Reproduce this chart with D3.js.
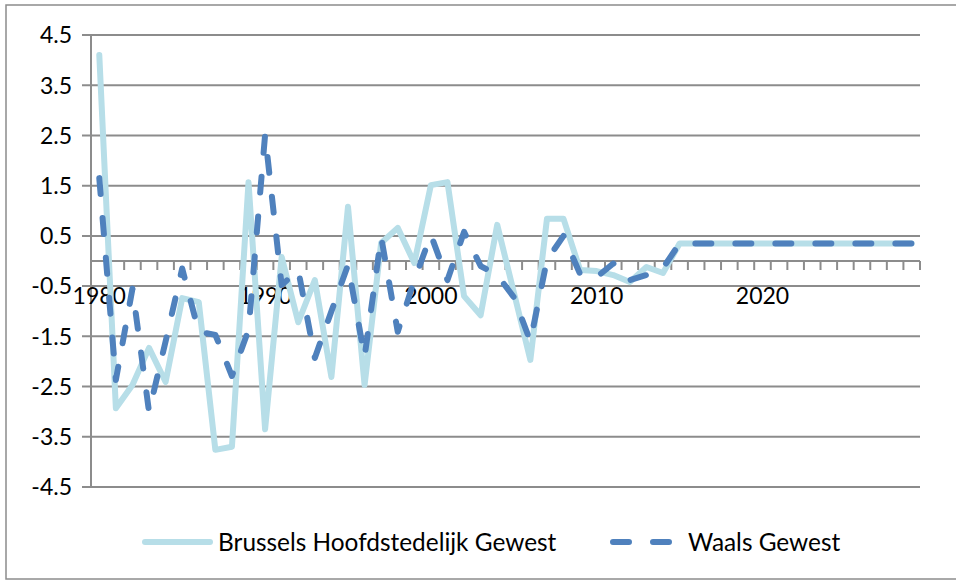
<html>
<head>
<meta charset="utf-8">
<style>
    body { margin: 0; background: #fff; }
    text { font-family: Lato, "Noto Sans", sans-serif; fill: #000; }
</style>
</head>
<body>
<svg id="chart" width="956" height="581"></svg>
<script src="https://cdn.jsdelivr.net/npm/d3@7"></script>
<script>
    // years 1980 - 2029
    let years = [1980, 1981, 1982, 1983, 1984, 1985, 1986, 1987, 1988, 1989,
                 1990, 1991, 1992, 1993, 1994, 1995, 1996, 1997, 1998, 1999,
                 2000, 2001, 2002, 2003, 2004, 2005, 2006, 2007, 2008, 2009,
                 2010, 2011, 2012, 2013, 2014, 2015, 2016, 2017, 2018, 2019,
                 2020, 2021, 2022, 2023, 2024, 2025, 2026, 2027, 2028, 2029]
    let brussels = [4.1, -2.93, -2.47, -1.73, -2.41, -0.74, -0.82, -3.76, -3.7, 1.57,
                    -3.35, 0.08, -1.22, -0.38, -2.31, 1.08, -2.47, 0.36, 0.66, -0.04,
                    1.51, 1.57, -0.7, -1.08, 0.72, -0.62, -1.97, 0.84, 0.84, -0.18,
                    -0.2, -0.28, -0.42, -0.12, -0.24, 0.35, 0.35, 0.35, 0.35, 0.35,
                    0.35, 0.35, 0.35, 0.35, 0.35, 0.35, 0.35, 0.35, 0.35, 0.35]
    let waals = [1.65, -2.37, -0.55, -3.0, -1.6, -0.15, -1.41, -1.47, -2.29, -1.37,
                 2.51, -0.48, -0.18, -1.93, -1.0, -0.08, -1.91, 0.48, -1.41, -0.38,
                 0.52, -0.38, 0.58, -0.1, -0.28, -0.72, -1.6, 0.02, 0.5, -0.26,
                 -0.32, -0.05, -0.38, -0.28, -0.14, 0.35, 0.35, 0.35, 0.35, 0.35,
                 0.35, 0.35, 0.35, 0.35, 0.35, 0.35, 0.35, 0.35, 0.35, 0.35]
    let yTicks = [4.5, 3.5, 2.5, 1.5, 0.5, -0.5, -1.5, -2.5, -3.5, -4.5]
    let xLabels = [1980, 1990, 2000, 2010, 2020]
    let seriesNames = ["Brussels Hoofdstedelijk Gewest", "Waals Gewest"]

    let svg = d3.select("#chart")
    let gray = "#8c8c8c"

    // outer frame
    svg.append("rect")
        .attr("x", 6).attr("y", 5)
        .attr("width", 980).attr("height", 574)
        .attr("fill", "none").attr("stroke", gray).attr("stroke-width", 1.5)

    let x = d3.scaleBand().domain(years).range([91, 920]).padding(0)
    let y = d3.scaleLinear().domain([-4.5, 4.5]).range([487, 35])
    let cx = d => x(d) + x.bandwidth() / 2

    // horizontal gridlines + y ticks
    svg.selectAll(".grid")
        .data(yTicks)
        .enter().append("line")
        .attr("x1", 82).attr("x2", 920)
        .attr("y1", d => y(d)).attr("y2", d => y(d))
        .attr("stroke", gray).attr("stroke-width", 2)

    svg.selectAll(".ylab")
        .data(yTicks)
        .enter().append("text")
        .attr("x", 72).attr("y", d => y(d))
        .attr("dy", "0.36em")
        .attr("text-anchor", "end")
        .attr("font-size", 23)
        .text(d => d.toFixed(1))

    // vertical axis
    svg.append("line")
        .attr("x1", 91).attr("x2", 91).attr("y1", 35).attr("y2", 487)
        .attr("stroke", gray).attr("stroke-width", 2)

    // horizontal axis at zero with a tick between every category
    svg.append("line")
        .attr("x1", 91).attr("x2", 920).attr("y1", y(0)).attr("y2", y(0))
        .attr("stroke", gray).attr("stroke-width", 2)

    let bounds = years.map(d => x(d)).concat([x(years[years.length - 1]) + x.bandwidth()])
    svg.selectAll(".xtick")
        .data(bounds)
        .enter().append("line")
        .attr("x1", d => d).attr("x2", d => d)
        .attr("y1", y(0)).attr("y2", y(0) + 9)
        .attr("stroke", gray).attr("stroke-width", 2)

    svg.selectAll(".xlab")
        .data(xLabels)
        .enter().append("text")
        .attr("x", d => cx(d)).attr("y", 304)
        .attr("text-anchor", "middle")
        .attr("font-size", 23)
        .text(d => d)

    // lines
    let line = d3.line()
        .x((d, i) => cx(years[i]))
        .y(d => y(d))

    svg.append("path")
        .attr("d", line(brussels))
        .attr("fill", "none")
        .attr("stroke", "#b7dee8")
        .attr("stroke-width", 6)
        .attr("stroke-linejoin", "round")
        .attr("stroke-linecap", "round")

    svg.append("path")
        .attr("d", line(waals))
        .attr("fill", "none")
        .attr("stroke", "#4f81bd")
        .attr("stroke-width", 6)
        .attr("stroke-dasharray", "16,24")
        .attr("stroke-linejoin", "round")
        .attr("stroke-linecap", "round")

    // legend
    let legend = svg.append("g")
    legend.append("line")
        .attr("x1", 145).attr("x2", 210).attr("y1", 542).attr("y2", 542)
        .attr("stroke", "#b7dee8").attr("stroke-width", 6).attr("stroke-linecap", "round")
    legend.append("text")
        .attr("x", 218).attr("y", 542).attr("dy", "0.36em")
        .attr("font-size", 24.4)
        .text(seriesNames[0])
    legend.append("line")
        .attr("x1", 613).attr("x2", 677).attr("y1", 542).attr("y2", 542)
        .attr("stroke", "#4f81bd").attr("stroke-width", 6)
        .attr("stroke-dasharray", "16,24").attr("stroke-linecap", "round")
    legend.append("text")
        .attr("x", 688).attr("y", 542).attr("dy", "0.36em")
        .attr("font-size", 24.4)
        .text(seriesNames[1])
</script>
</body>
</html>
